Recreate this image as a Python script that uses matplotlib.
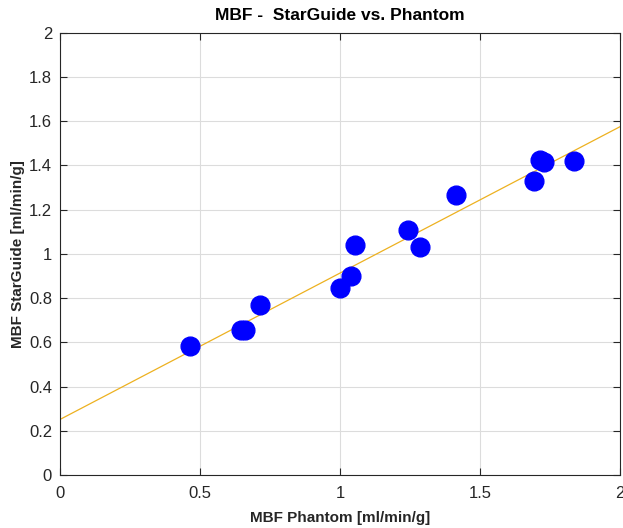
import numpy as np
import matplotlib
matplotlib.use('Agg')
import matplotlib.pyplot as plt

plt.rcParams['font.family'] = ['Liberation Sans', 'DejaVu Sans']

# data
phantom = [0.464, 0.646, 0.660, 0.714, 1.000, 1.040, 1.054, 1.243, 1.286, 1.414, 1.693, 1.714, 1.729, 1.836]
starguide = [0.584, 0.656, 0.656, 0.769, 0.846, 0.900, 1.041, 1.109, 1.032, 1.267, 1.330, 1.425, 1.416, 1.421]
fit_slope = 0.661
fit_intercept = 0.253

fig = plt.figure(figsize=(6.23, 5.28), dpi=100)
ax = fig.add_axes([0.097, 0.100, 0.898, 0.838])

xx = np.array([0, 2])
ax.plot(xx, fit_intercept + fit_slope * xx, color='#EDB120', lw=0.9, zorder=2)
ax.plot(phantom, starguide, 'o', color='#0000FF', ms=13.5, mec='#0000FF', zorder=3)

ax.set_xlim(0, 2)
ax.set_ylim(0, 2)
ax.set_xticks([0, 0.5, 1, 1.5, 2])
ax.set_xticklabels(['0', '0.5', '1', '1.5', '2'])
ax.set_yticks(np.arange(0, 2.01, 0.2))
ax.set_yticklabels(['0', '0.2', '0.4', '0.6', '0.8', '1', '1.2', '1.4', '1.6', '1.8', '2'])

ax.grid(True, color='#dcdcdc', lw=0.8)
ax.set_axisbelow(True)
ax.tick_params(direction='in', top=True, right=True, length=5, width=0.8,
               colors='#262626', labelsize=12, pad=6)
ax.tick_params(axis='x', pad=8)
for s in ax.spines.values():
    s.set_color('#262626')
    s.set_linewidth(0.8)

ax.set_title('MBF -  StarGuide vs. Phantom', fontsize=12.5, fontweight='bold', pad=9)
ax.set_xlabel('MBF Phantom [ml/min/g]', fontsize=11, fontweight='bold', color='#262626', labelpad=7)
ax.set_ylabel('MBF StarGuide [ml/min/g]', fontsize=11, fontweight='bold', color='#262626', labelpad=3)

fig.savefig('out.png', dpi=100)
